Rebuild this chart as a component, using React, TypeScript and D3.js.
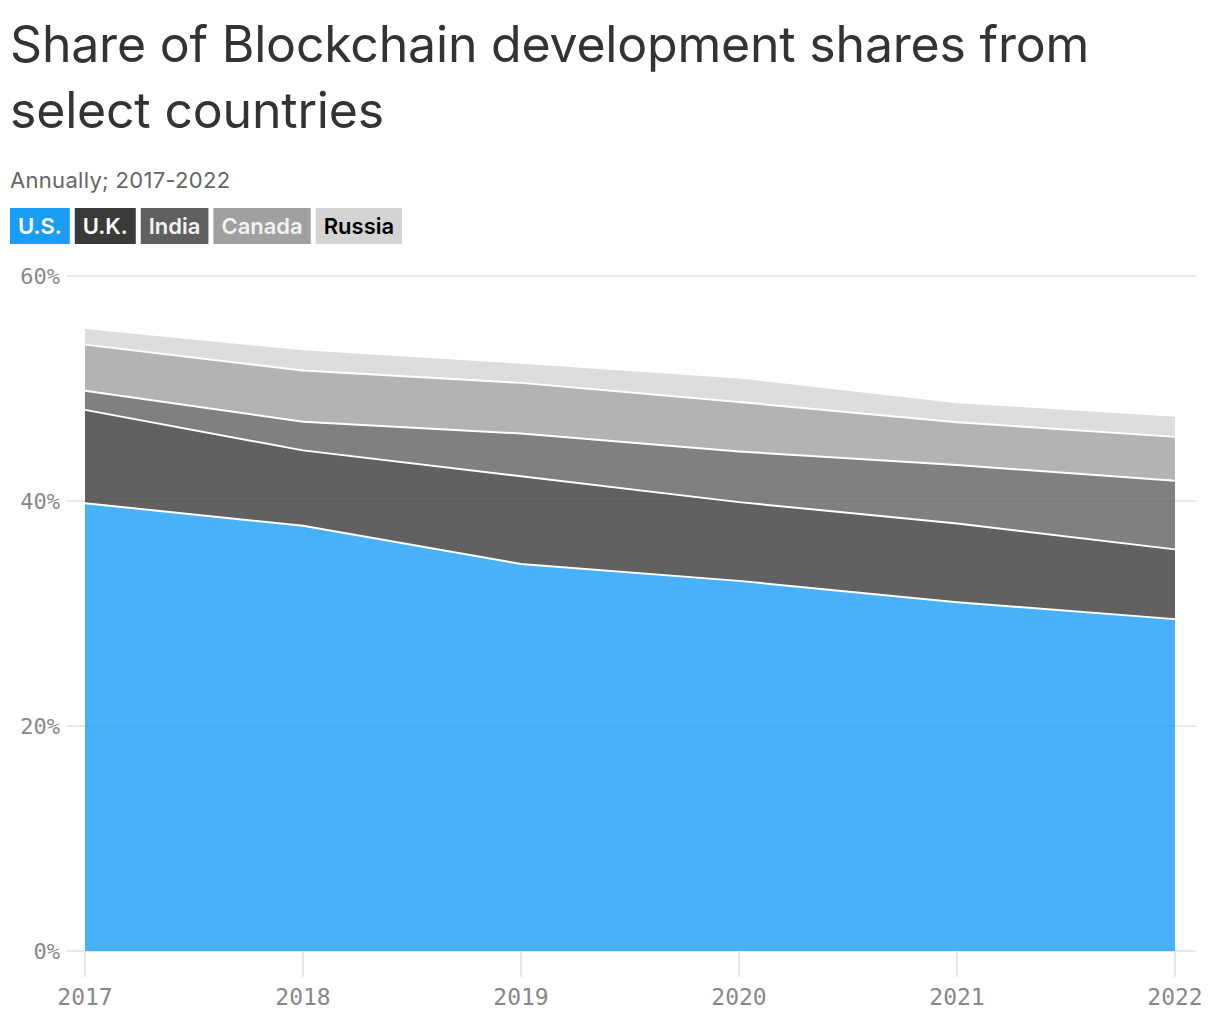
import { useRef, useEffect } from "react";
import * as d3 from "d3";

const years = [2017, 2018, 2019, 2020, 2021, 2022];
const countries = ["U.S.", "U.K.", "India", "Canada", "Russia"];
const usShare = [39.8, 37.8, 34.4, 32.9, 31.0, 29.5];
const ukShare = [8.3, 6.7, 7.8, 7.0, 7.0, 6.2];
const indiaShare = [1.7, 2.55, 3.8, 4.5, 5.2, 6.1];
const canadaShare = [4.1, 4.55, 4.5, 4.4, 3.8, 3.9];
const russiaShare = [1.4, 1.8, 1.7, 2.1, 1.7, 1.8];
const yTicks = [0, 20, 40, 60];

const legendFill = ["#1a9ef5", "#3a3a3a", "#606060", "#a0a0a0", "#d4d4d4"];
const legendText = ["#ffffff", "#ffffff", "#f2f2f2", "#f2f2f2", "#000000"];

export default function App() {
  const svgRef = useRef<SVGSVGElement | null>(null);

  useEffect(() => {
    document.body.style.margin = "0";
    const svg = d3.select(svgRef.current);
    svg.selectAll("*").remove();

    const width = 1220;
    const height = 1020;
    const margin = { top: 276, right: 45, bottom: 69, left: 85 };
    const sans = "Inter, 'Noto Sans', sans-serif";
    const mono = "'DejaVu Sans Mono', monospace";

    const rows = years.map((year, i) => ({
      year,
      "U.S.": usShare[i],
      "U.K.": ukShare[i],
      India: indiaShare[i],
      Canada: canadaShare[i],
      Russia: russiaShare[i],
    }));

    const x = d3
      .scaleLinear()
      .domain(d3.extent(years) as [number, number])
      .range([margin.left, width - margin.right]);
    const y = d3
      .scaleLinear()
      .domain([0, 60])
      .range([height - margin.bottom, margin.top]);

    // Heading
    const heading = ["Share of Blockchain development shares from", "select countries"];
    heading.forEach((line, i) => {
      svg
        .append("text")
        .attr("x", 10)
        .attr("y", 62 + i * 66)
        .attr("font-family", sans)
        .attr("font-size", 50)
        .attr("fill", "#333")
        .attr("letter-spacing", -0.2)
        .text(line);
    });
    svg
      .append("text")
      .attr("x", 10)
      .attr("y", 188)
      .attr("font-family", sans)
      .attr("font-size", 22)
      .attr("fill", "#666")
      .attr("letter-spacing", 0.3)
      .text("Annually; 2017-2022");

    // Legend chips
    let lx = 10;
    countries.forEach((name, i) => {
      const g = svg.append("g");
      const rect = g
        .append("rect")
        .attr("y", 208)
        .attr("height", 36)
        .attr("fill", legendFill[i]);
      const t = g
        .append("text")
        .attr("y", 234)
        .attr("font-family", sans)
        .attr("font-size", 22)
        .attr("font-weight", 600)
        .attr("fill", legendText[i])
        .text(name);
      const w = (t.node() as SVGTextElement).getComputedTextLength();
      rect.attr("x", lx).attr("width", w + 16);
      t.attr("x", lx + 8);
      lx += w + 16 + 5;
    });

    // Gridlines
    svg
      .append("g")
      .selectAll("line")
      .data(yTicks)
      .join("line")
      .attr("x1", 67)
      .attr("x2", 1196)
      .attr("y1", (d) => y(d))
      .attr("y2", (d) => y(d))
      .attr("stroke", "#e0e0e0")
      .attr("stroke-width", 1.5);

    svg
      .append("g")
      .selectAll("line")
      .data(years)
      .join("line")
      .attr("x1", (d) => x(d))
      .attr("x2", (d) => x(d))
      .attr("y1", y(0))
      .attr("y2", y(0) + 26)
      .attr("stroke", "#e0e0e0")
      .attr("stroke-width", 1.5);

    // Stacked areas
    const series = d3.stack<any>().keys(countries)(rows);
    const area = d3
      .area<any>()
      .x((d) => x(d.data.year))
      .y0((d) => y(d[0]))
      .y1((d) => y(d[1]));
    const topLine = d3
      .line<any>()
      .x((d) => x(d.data.year))
      .y((d) => y(d[1]));

    svg
      .append("g")
      .selectAll("path")
      .data(series)
      .join("path")
      .attr("d", area)
      .attr("fill", (_, i) => legendFill[i])
      .attr("fill-opacity", 0.8);

    svg
      .append("g")
      .selectAll("path")
      .data(series.slice(0, countries.length - 1))
      .join("path")
      .attr("d", topLine)
      .attr("fill", "none")
      .attr("stroke", "#fff")
      .attr("stroke-width", 2);

    // Axis labels
    svg
      .append("g")
      .selectAll("text")
      .data(yTicks)
      .join("text")
      .attr("x", 60)
      .attr("y", (d) => y(d))
      .attr("dy", "0.35em")
      .attr("text-anchor", "end")
      .attr("font-family", mono)
      .attr("font-size", 22)
      .attr("fill", "#888")
      .text((d) => `${d}%`);

    svg
      .append("g")
      .selectAll("text")
      .data(years)
      .join("text")
      .attr("x", (d) => x(d))
      .attr("y", 1005)
      .attr("text-anchor", "middle")
      .attr("font-family", mono)
      .attr("font-size", 23)
      .attr("fill", "#888")
      .text((d) => d);
  }, []);

  return <svg ref={svgRef} width={1220} height={1020} style={{ display: "block" }} />;
}
